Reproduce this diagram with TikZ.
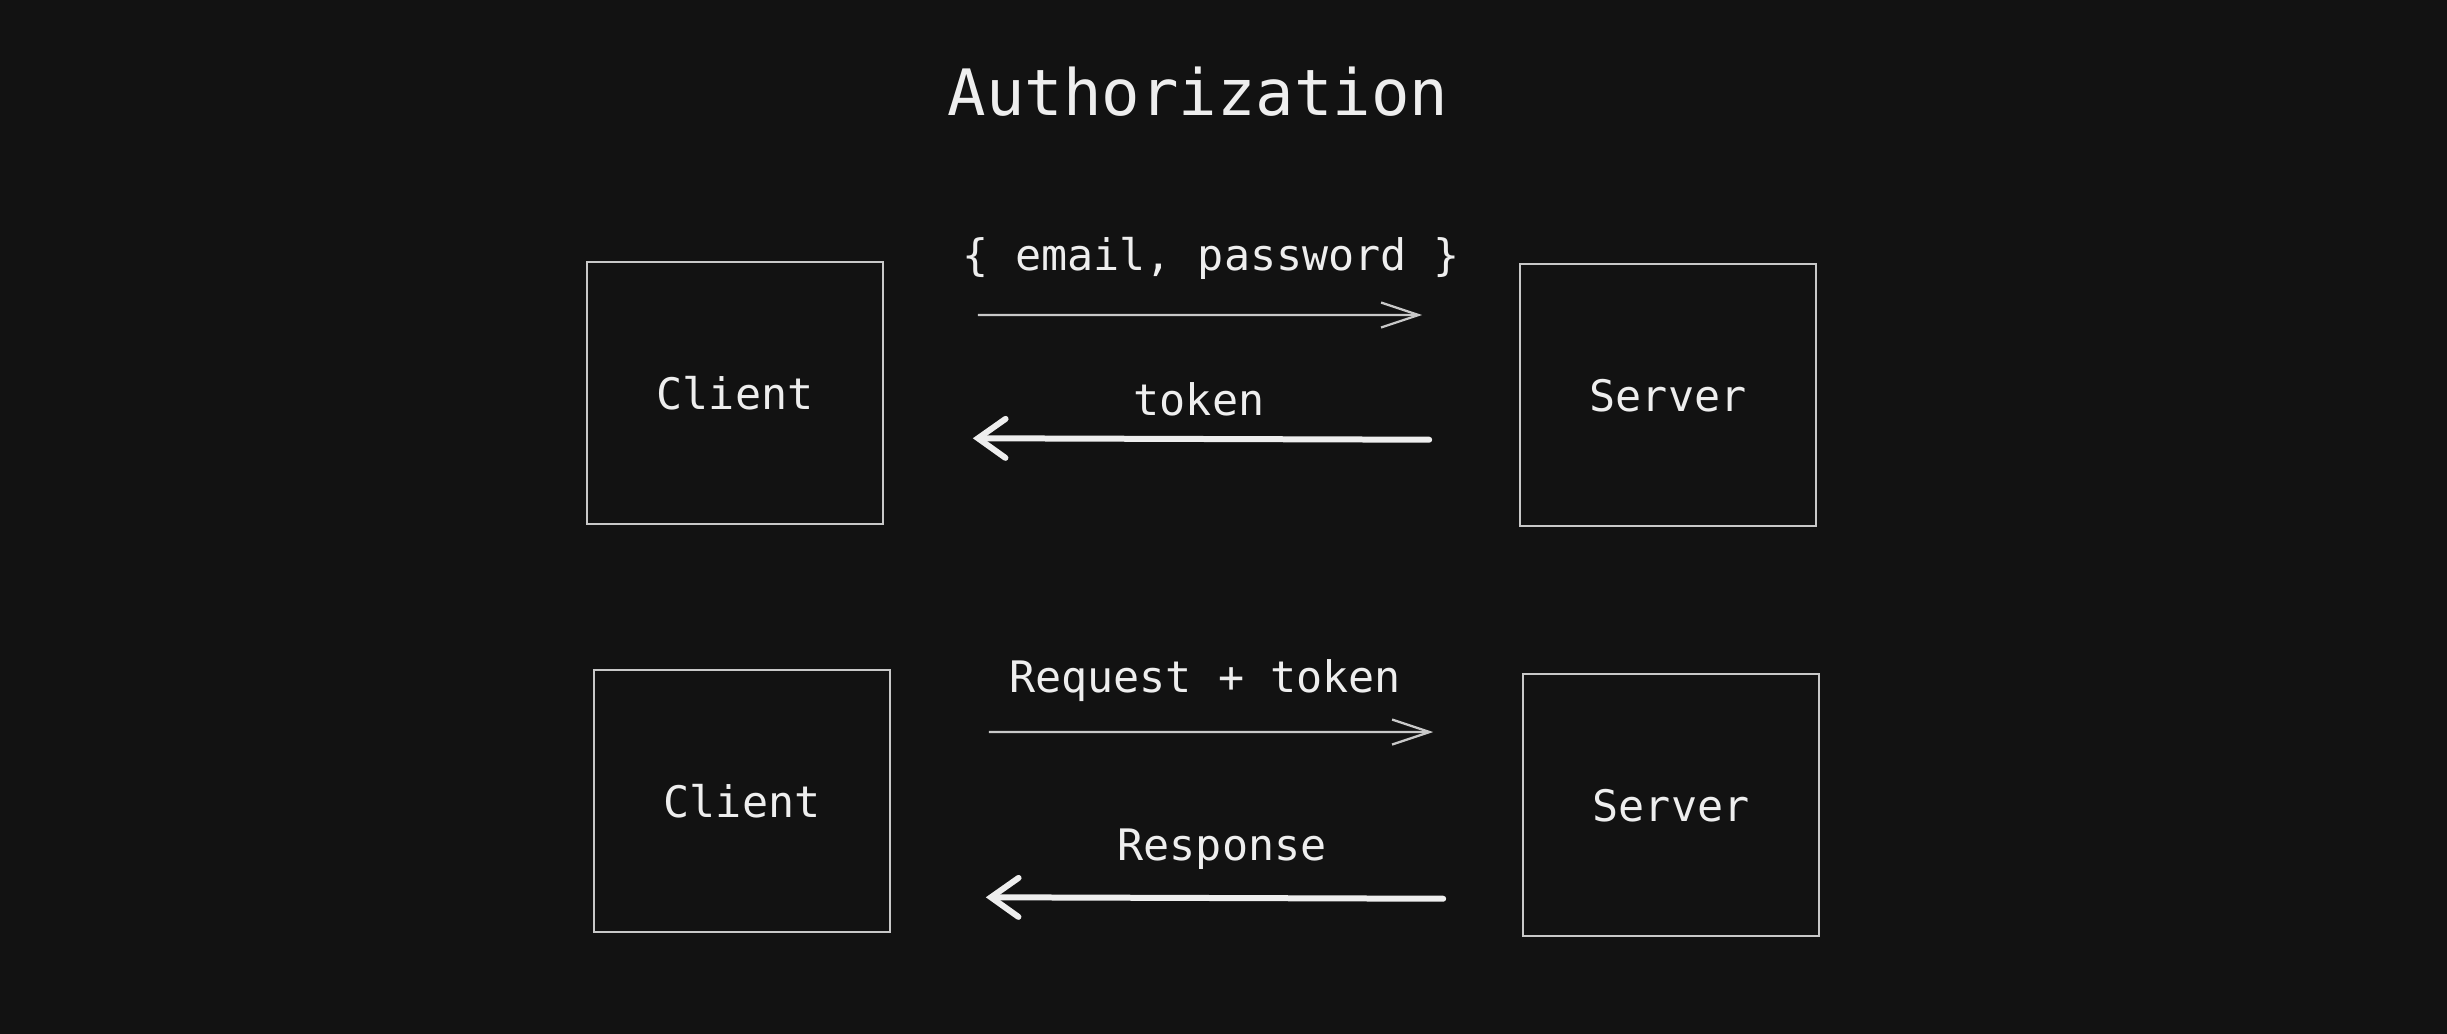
\documentclass[tikz,border=0pt]{standalone}
\usepackage{fontspec}
\setmainfont{DejaVu Sans Mono}
\usepackage{xcolor}
\usetikzlibrary{arrows.meta}
\definecolor{bgdark}{HTML}{121212}
\definecolor{inkwhite}{HTML}{EEEEEE}
\definecolor{inkgray}{HTML}{C8C8C8}
\tikzset{
    party/.style={draw=inkgray, line width=1pt, minimum width=5.92cm,
        minimum height=5.24cm, inner sep=0pt, text=inkwhite, text depth=-0.12cm,
        font=\fontsize{24.7}{30}\selectfont},
    msg/.style={text=inkwhite, inner sep=0pt, font=\fontsize{24.7}{30}\selectfont},
    ask/.style={draw=inkgray, line width=1.3pt,
        -{Straight Barb[length=0.75cm, width=0.5cm, line width=1.3pt]}},
    reply/.style={draw=inkwhite, line width=0.12cm, line cap=round,
        -{Straight Barb[length=0.55cm, width=0.78cm, line cap=round]}}
}

\begin{document}
\begin{tikzpicture}[x=0.02cm, y=-0.02cm]
		\fill[bgdark] (0,0) rectangle (2447,1034);
		\useasboundingbox (0,0) rectangle (2447,1034);

	    \node[text=inkwhite, font=\fontsize{36.4}{44}\selectfont] (title) at (1198, 92) {Authorization};

		% login exchange
		\node[party] (client1) at (735, 393) {Client};
		\node[party] (server1) at (1668, 395) {Server};
	    \node[msg] (creds) at (1211, 258) {\{ email, password \}};
	    \node[msg] (tok) at (1199, 399) {token};

		% request with token
		\node[party] (client2) at (742, 801) {Client};
		\node[party] (server2) at (1671, 805) {Server};
	    \node[msg] (req) at (1205, 681) {Request + token};
	    \node[msg] (resp) at (1222, 849) {Response};

		% arrows
		\draw[ask, shorten <=1.88cm, shorten >=1.94cm]
		    ([yshift=1.56cm]client1.east) -- ([yshift=1.6cm]server1.west);
		\draw[reply, shorten <=1.80cm, shorten >=1.78cm]
		    ([yshift=-0.9cm]server1.west) -- ([yshift=-0.9cm]client1.east);

		\draw[ask, shorten <=1.96cm, shorten >=1.78cm]
		    ([yshift=1.38cm]client2.east) -- ([yshift=1.46cm]server2.west);
		\draw[reply, shorten <=1.58cm, shorten >=1.90cm]
		    ([yshift=-1.88cm]server2.west) -- ([yshift=-1.92cm]client2.east);
\end{tikzpicture}
\end{document}
